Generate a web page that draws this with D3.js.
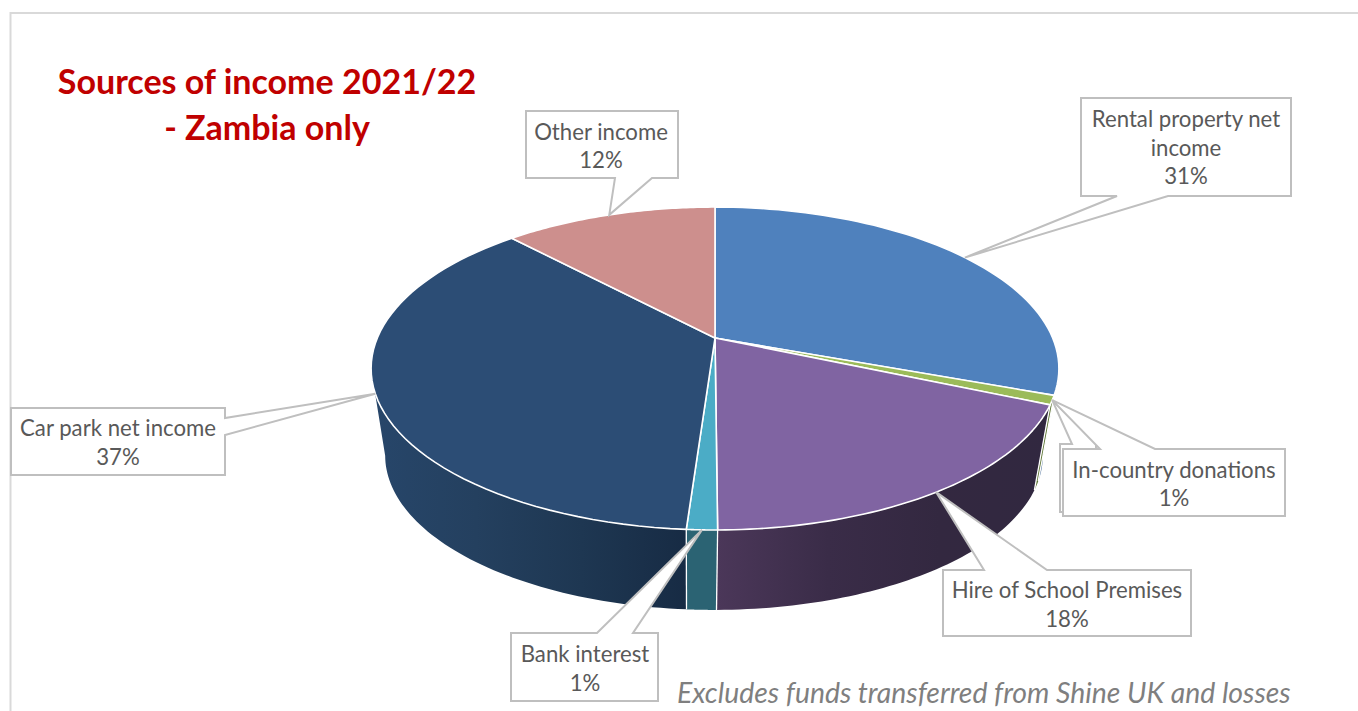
<!DOCTYPE html>
<html>
<head>
<meta charset="utf-8">
<title>Sources of income 2021/22 - Zambia only</title>
<script src="https://cdn.jsdelivr.net/npm/d3@7"></script>
<style>
  html, body { margin: 0; padding: 0; background: #fff; overflow: hidden; }
  svg { display: block; }
  text { font-family: Lato, "Open Sans", sans-serif; }
</style>
</head>
<body>
<div id="chart"></div>
<script>
"use strict";

/* ── Data ── */
const categories = ["Rental property net income", "In-country donations", "Hire of School Premises",
                    "Bank interest", "Car park net income", "Other income"];
const shares     = [30.6, 0.9, 18.4, 1.2, 36.9, 12];

/* ── Colours ── */
const topColours  = ["#4f81bd", "#9bbb59", "#8064a2", "#4bacc6", "#2c4d75", "#cd8f8d"];
const wallStops   = [
  ["#3c6290", "#3c6290"],
  ["#5d7534", "#5d7534"],
  ["#4b3759", "#3a2c48", "#332840", "#312840"],
  ["#2b6373", "#2b6373"],
  ["#27466a", "#24405f", "#1e3752", "#172b44"],
  ["#a06a68", "#a06a68"],
];

/* ── Callout boxes: [left, top, right, bottom], wedge base, text lines and centre ── */
const boxes = [
  { box: [1081, 98, 1291, 196],  base: [[1117, 196], [1168, 196]], lines: ["Rental property net", "income"], tx: 1186, ty: 127 },
  { box: [1063, 449, 1285, 516], base: [[1100, 449], [1155, 449]], lines: ["In-country donations"], tx: 1174, ty: 477.5 },
  { box: [943, 570, 1191, 636],  base: [[984, 570], [1047, 570]],  lines: ["Hire of School Premises"], tx: 1067, ty: 598 },
  { box: [511, 633, 658, 701],   base: [[597, 633], [633, 633]],   lines: ["Bank interest"], tx: 585, ty: 662 },
  { box: [11, 408, 225, 475],    base: [[225, 418], [225, 435]],   lines: ["Car park net income"], tx: 118, ty: 436 },
  { box: [526, 111, 678, 178],   base: [[615, 178], [652, 178]],   lines: ["Other income"], tx: 601, ty: 139.5 },
];

const W = 1358, H = 711;
const svg = d3.select("#chart").append("svg").attr("width", W).attr("height", H);

/* ── Perspective disc: unit circle point to screen, k is the foreshortening ── */
const k = 0.189;
function project(angle, r, level) {
  const ux = r * Math.sin(angle), uy = -r * Math.cos(angle);
  const den = 1 - k * uy;
  const p = level === "top"
    ? { cx: 715, cy: 338, a: 337.7, b: 155.7 }
    : { cx: 714, cy: 426.3, a: 322.9, b: 148.9 };
  return [p.cx + p.a * ux / den, p.cy + p.b * uy / den];
}

const rim = (a0, a1, level) => d3.range(0, 61).map(i => project(a0 + (a1 - a0) * i / 60, 1, level));
const line = d3.line();

const arcs = d3.pie().sort(null).value(d => d)(shares);

/* ── Frame ── */
svg.append("path")
  .attr("d", `M10.5,${H}V13H${W}`)
  .attr("fill", "none").attr("stroke", "#d9d9d9").attr("stroke-width", 2);

/* ── Walls (only the part facing the viewer) ── */
const wallFrom = 101 * Math.PI / 180, wallTo = 259 * Math.PI / 180;
const defs = svg.append("defs");

arcs.forEach((d, i) => {
  const a0 = Math.max(d.startAngle, wallFrom), a1 = Math.min(d.endAngle, wallTo);
  if (a1 <= a0) return;
  const xs = [project(a0, 1, "top")[0], project(a1, 1, "top")[0]];
  const grad = defs.append("linearGradient").attr("id", `wall-${i}`)
    .attr("gradientUnits", "userSpaceOnUse")
    .attr("x1", d3.min(xs)).attr("x2", d3.max(xs)).attr("y1", 0).attr("y2", 0);
  wallStops[i].forEach((c, j, all) => {
    grad.append("stop").attr("offset", j / (all.length - 1)).attr("stop-color", c);
  });
  const pts = rim(a0, a1, "top").concat(rim(a1, a0, "bottom"));
  svg.append("path").attr("d", line(pts) + "Z").attr("fill", `url(#wall-${i})`);
});

/* white seams between walls */
arcs.forEach(d => {
  if (d.endAngle <= wallFrom || d.endAngle >= wallTo) return;
  svg.append("path")
    .attr("d", line([project(d.endAngle, 1, "top"), project(d.endAngle, 1, "bottom")]))
    .attr("stroke", "#fff").attr("stroke-width", 1.3).attr("fill", "none");
});

/* ── Top face ── */
arcs.forEach((d, i) => {
  const pts = [project(0, 0, "top")].concat(rim(d.startAngle, d.endAngle, "top"));
  svg.append("path")
    .attr("d", line(pts) + "Z")
    .attr("fill", topColours[i])
    .attr("stroke", "#fff").attr("stroke-width", 1.6).attr("stroke-linejoin", "round");
});

/* ── Callouts ── */
const pctFormat = d3.format(".0f");

function drawCallout(box, base, tip) {
  const [l, t, r, b] = box;
  const [p, q] = base;
  let pts;
  if (p[0] === r) pts = [[l, t], [r, t], p, tip, q, [r, b], [l, b]];       // wedge on the right side
  else if (p[1] === t) pts = [[l, t], p, tip, q, [r, t], [r, b], [l, b]];  // wedge on the top side
  else pts = [[l, t], [r, t], [r, b], q, tip, p, [l, b]];                  // wedge on the bottom side
  svg.append("path")
    .attr("d", line(pts) + "Z")
    .attr("fill", "#fff")
    .attr("stroke", "#bfbfbf").attr("stroke-width", 2).attr("stroke-linejoin", "miter");
}

/* duplicate label sitting behind the in-country donations one */
const donationTip = project((arcs[1].startAngle + arcs[1].endAngle) / 2, 1, "top");
drawCallout([1060, 444, 1096, 512], [[1072, 444], [1096, 444]], donationTip);

boxes.forEach((c, i) => {
  const tip = project((arcs[i].startAngle + arcs[i].endAngle) / 2, 1, "top");
  drawCallout(c.box, c.base, tip);

  const rows = c.lines.concat(`${pctFormat(shares[i])}%`);
  rows.forEach((row, j) => {
    svg.append("text")
      .attr("x", c.tx).attr("y", c.ty + j * 28.6)
      .attr("text-anchor", "middle")
      .attr("font-size", 22.2).attr("fill", "#595959")
      .text(row);
  });
});

/* ── Title ── */
svg.append("text")
  .attr("x", 267).attr("y", 93.5).attr("text-anchor", "middle")
  .attr("font-size", 34).attr("font-weight", 700).attr("fill", "#c00000")
  .text("Sources of income 2021/22");
svg.append("text")
  .attr("x", 267).attr("y", 139.5).attr("text-anchor", "middle")
  .attr("font-size", 34).attr("font-weight", 700).attr("fill", "#c00000")
  .text("- Zambia only");

/* ── Footnote ── */
svg.append("text")
  .attr("x", 677).attr("y", 703)
  .attr("font-size", 28.4).attr("font-style", "italic").attr("fill", "#7f7f7f")
  .text("Excludes funds transferred from Shine UK and losses");
</script>
</body>
</html>
